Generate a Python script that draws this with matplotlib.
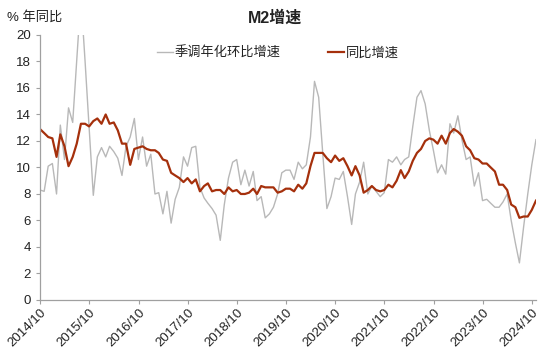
import matplotlib
matplotlib.use("Agg")
import matplotlib.pyplot as plt
import matplotlib.dates as mdates
import pandas as pd

plt.rcParams['font.family'] = ['Liberation Sans', 'Noto Sans CJK SC', 'DejaVu Sans']

# Monthly data, 2014/09 .. 2024/10
start_month = "2014-09-30"
end_month = "2024-10-31"

yoy = [12.9, 12.6, 12.3, 12.2,
       10.8, 12.5, 11.6, 10.1, 10.8, 11.8, 13.3, 13.3, 13.1, 13.5, 13.7, 13.3,
       14.0, 13.3, 13.4, 12.8, 11.8, 11.8, 10.2, 11.4, 11.5, 11.6, 11.4, 11.3,
       11.3, 11.1, 10.6, 10.5, 9.6, 9.4, 9.2, 8.9, 9.2, 8.8, 9.1, 8.2,
       8.6, 8.8, 8.2, 8.3, 8.3, 8.0, 8.5, 8.2, 8.3, 8.0, 8.0, 8.1,
       8.4, 8.0, 8.6, 8.5, 8.5, 8.5, 8.1, 8.2, 8.4, 8.4, 8.2, 8.7,
       8.4, 8.8, 10.1, 11.1, 11.1, 11.1, 10.7, 10.4, 10.9, 10.5, 10.7, 10.1,
       9.4, 10.1, 9.4, 8.1, 8.3, 8.6, 8.3, 8.2, 8.3, 8.7, 8.5, 9.0,
       9.8, 9.2, 9.7, 10.5, 11.1, 11.4, 12.0, 12.2, 12.1, 11.8, 12.4, 11.8,
       12.6, 12.9, 12.7, 12.4, 11.6, 11.3, 10.7, 10.6, 10.3, 10.3, 10.0, 9.7,
       8.7, 8.7, 8.3, 7.2, 7.0, 6.2, 6.3, 6.3, 6.8, 7.5]

sa_annualized = [8.3, 8.2, 10.1, 10.3,
                 8.0, 13.2, 10.6, 14.5, 13.4, 18.1, 22.9, 18.0, 13.0, 7.9, 10.8, 11.5,
                 10.8, 11.6, 11.2, 10.7, 9.4, 11.6, 12.3, 13.7, 10.6, 12.3, 10.1, 11.0,
                 8.0, 8.1, 6.5, 8.2, 5.8, 7.6, 8.5, 10.8, 10.1, 11.5, 11.6, 8.5,
                 7.7, 7.3, 6.9, 6.4, 4.5, 7.2, 9.2, 10.4, 10.6, 8.7, 9.8, 8.6,
                 9.7, 7.5, 7.8, 6.2, 6.5, 7.0, 8.0, 9.6, 9.8, 9.8, 9.1, 10.4,
                 9.9, 10.2, 12.3, 16.5, 15.3, 11.1, 6.9, 7.8, 9.2, 9.1, 9.7, 7.8,
                 5.7, 8.0, 8.9, 10.4, 8.0, 8.6, 8.2, 7.8, 8.1, 10.6, 10.4, 10.8,
                 10.2, 10.6, 10.8, 13.1, 15.3, 15.8, 14.8, 12.8, 11.3, 9.6, 10.2, 9.5,
                 13.3, 12.6, 13.9, 12.1, 10.6, 10.8, 8.6, 9.6, 7.5, 7.6, 7.3, 7.0,
                 7.0, 7.4, 8.0, 6.0, 4.3, 2.8, 5.5, 8.0, 10.2, 12.1]

tick_labels = ["2014/10", "2015/10", "2016/10", "2017/10", "2018/10", "2019/10",
               "2020/10", "2021/10", "2022/10", "2023/10", "2024/10"]

series_names = ["季调年化环比增速", "同比增速"]
title = "M2增速"
y_label = "% 年同比"

dates = pd.date_range(start_month, end_month, freq="ME")
tick_dates = pd.to_datetime([t.replace("/", "-") + "-01" for t in tick_labels])

fig = plt.figure(figsize=(5.5, 3.63), dpi=100)
ax = fig.add_axes([0.0727, 0.1736, 0.9018, 0.7300])

gray = "#b8b8b8"
red = "#a5300c"
ax.plot(dates, sa_annualized, color=gray, lw=1.0, label=series_names[0])
ax.plot(dates, yoy, color=red, lw=1.6, label=series_names[1])

ax.set_xlim(dates[0], dates[-1])
ax.set_ylim(0, 20)
ax.set_yticks(range(0, 21, 2))
ax.set_xticks(tick_dates)
ax.set_xticklabels(tick_labels, rotation=45, ha="right", rotation_mode="anchor")

for s in ["top", "right"]:
    ax.spines[s].set_visible(False)
for s in ["left", "bottom"]:
    ax.spines[s].set_color("#a0a0a0")
    ax.spines[s].set_linewidth(0.9)
ax.tick_params(axis="both", direction="out", length=3, width=0.8, color="#a0a0a0",
               labelsize=9.5, labelcolor="#222222")
ax.tick_params(axis="x", pad=2)

fig.text(0.5, 0.952, title, ha="center", va="center", fontsize=11.5,
         fontweight="bold", color="#222222")
fig.text(0.012, 0.952, y_label, ha="left", va="center", fontsize=9.5, color="#222222")

leg = ax.legend(loc="upper center", bbox_to_anchor=(0.48, 0.975), ncol=2, frameon=False,
                fontsize=9.5, handlelength=1.2, handletextpad=0.15, columnspacing=3.6,
                borderaxespad=0)
for t in leg.get_texts():
    t.set_color("#222222")

fig.savefig("out.png", dpi=100)
